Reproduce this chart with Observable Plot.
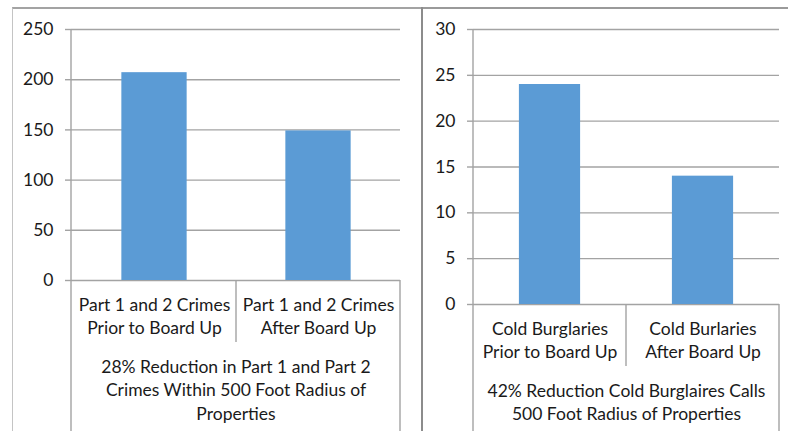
<!DOCTYPE html>
<html><head><meta charset="utf-8">
<script src="https://cdn.jsdelivr.net/npm/d3@7"></script>
<script src="https://cdn.jsdelivr.net/npm/@observablehq/plot@0.6"></script>
<style>
body{margin:0;background:#fff;}
#wrap{position:relative;width:788px;height:431px;overflow:hidden;font-family:Lato,sans-serif;background:#fff;}
#left,#right{position:absolute;top:0;}
#left{left:0;}
#right{left:422px;}
.frameL{position:absolute;left:12px;top:7px;width:410px;height:430px;border-left:1px solid #c4c4c4;border-top:2px solid #a3a3a3;box-sizing:border-box;}
.topR{position:absolute;left:422px;top:7px;width:366px;height:2px;background:#9a9a9a;}
.divider{position:absolute;left:421px;top:7px;width:2px;height:430px;background:#8c8c8c;z-index:5;}
</style></head><body>
<div id="wrap">
  <div class="frameL"></div>
  <div class="topR"></div>
  <div id="left"></div>
  <div id="right"></div>
  <div class="divider"></div>
</div>
<script>
// ---- data ----
const leftCategories = ["Part 1 and 2 Crimes\nPrior to Board Up", "Part 1 and 2 Crimes\nAfter Board Up"];
const leftValues = [207, 149];
const leftTicks = [0, 50, 100, 150, 200, 250];
const leftGroupLabel = "28% Reduction in Part 1 and Part 2\nCrimes Within 500 Foot Radius of\nProperties";

const rightCategories = ["Cold Burglaries\nPrior to Board Up", "Cold Burlaries\nAfter Board Up"];
const rightValues = [24, 14];
const rightTicks = [0, 5, 10, 15, 20, 25, 30];
const rightGroupLabel = "42% Reduction Cold Burglaires Calls\n500 Foot Radius of Properties";

const barColor = "#5B9BD5";
const lineColor = "#a3a3a3";
const textColor = "#1a1a1a";
const fs = 17.5;

function makeChart({categories, values, ticks, groupLabel, width, height, marginLeft, marginRight, marginTop, marginBottom}) {
  const data = categories.map((c, i) => ({c, v: values[i]}));
  const step = (width - marginLeft - marginRight) / categories.length;
  const inset = step * 0.30;
  const boxLines = (index, scales, vals, dims) => {
    const g = d3.create("svg:g").attr("stroke", lineColor).attr("stroke-width", 1.4).attr("fill", "none");
    const x0 = dims.marginLeft, x1 = dims.width - dims.marginRight;
    const yb = dims.height - dims.marginBottom;
    g.append("line").attr("x1", x0).attr("x2", x0).attr("y1", dims.marginTop).attr("y2", dims.height);
    g.append("line").attr("x1", x1).attr("x2", x1).attr("y1", yb).attr("y2", dims.height);
    categories.slice(1).forEach(c => {
      const xs = scales.x(c);
      g.append("line").attr("x1", xs).attr("x2", xs).attr("y1", yb).attr("y2", yb + 62);
    });
    return g.node();
  };
  return Plot.plot({
    width, height, marginLeft, marginRight, marginTop, marginBottom,
    style: {fontFamily: "Lato, sans-serif", fontSize: fs + "px", color: textColor, background: "transparent", overflow: "visible"},
    x: {domain: categories, padding: 0},
    y: {domain: [0, ticks[ticks.length - 1]]},
    marks: [
      Plot.gridY(ticks, {stroke: lineColor, strokeOpacity: 1, strokeWidth: 1.4}),
      Plot.barY(data, {x: "c", y: "v", fill: barColor, insetLeft: inset, insetRight: inset}),
      boxLines,
      Plot.axisY(ticks, {tickSize: 6, tickPadding: 12, stroke: lineColor, strokeWidth: 1.4, strokeOpacity: 1, tickFormat: d3.format("d"), fill: textColor, fontSize: fs, label: null}),
      Plot.axisX({tickSize: 0, tickPadding: 14, lineHeight: 1.33, fill: textColor, fontSize: fs, label: null, textOverflow: null}),
      Plot.text([groupLabel], {frameAnchor: "bottom", dy: 76, lineAnchor: "top", lineHeight: 1.33, fill: textColor, fontSize: fs})
    ]
  });
}

document.getElementById("left").append(makeChart({
  categories: leftCategories, values: leftValues, ticks: leftTicks, groupLabel: leftGroupLabel,
  width: 420, height: 431, marginLeft: 71, marginRight: 20, marginTop: 29, marginBottom: 151
}));
document.getElementById("right").append(makeChart({
  categories: rightCategories, values: rightValues, ticks: rightTicks, groupLabel: rightGroupLabel,
  width: 366, height: 431, marginLeft: 51, marginRight: 9, marginTop: 29, marginBottom: 127
}));
</script>
</body></html>
